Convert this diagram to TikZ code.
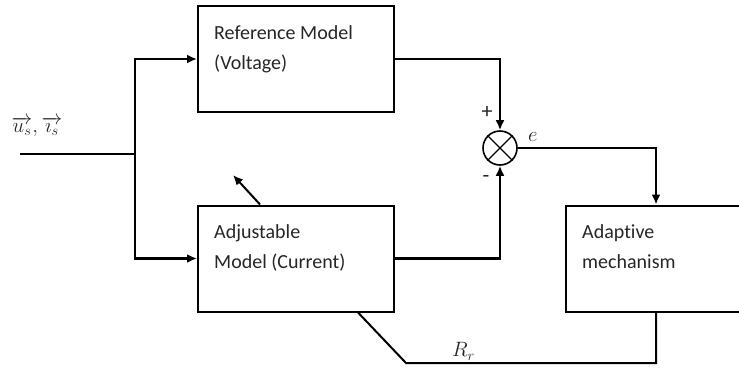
\documentclass[tikz,border=0pt]{standalone}
\usepackage{fontspec}
\setmainfont{Carlito}[Ligatures=NoCommon]
\usetikzlibrary{arrows.meta,positioning,calc}

\begin{document}
\begin{tikzpicture}[
  x=1pt,y=-1pt,
  >={Latex[length=10pt,width=9pt]},
  font=\fontsize{20}{30}\selectfont,
  text=black!85,
  blocknode/.style={draw,line width=2pt,minimum width=196pt,minimum height=106pt,inner sep=0pt},
  textnode/.style={align=left,inner sep=0pt},
  signnode/.style={font=\fontsize{22}{24}\selectfont,inner sep=0pt},
  mathnode/.style={font=\fontsize{22}{26}\selectfont},
  sumnode/.style={circle,draw,line width=1.6pt,minimum size=34pt,inner sep=0pt},
  sigline/.style={line width=2.8pt},
  thinline/.style={line width=2pt}
]
\useasboundingbox (0,0) rectangle (739,370);

\node[blocknode] (ref) at (296,59) {};
\node[blocknode] (adj) at (296,258.5) {};
\node[blocknode,minimum width=180pt] (adapt) at (656,258.5) {};
\node[sumnode] (sum) at (500,148) {};
\draw[line width=1.4pt] (sum.north west) -- (sum.south east)
  (sum.north east) -- (sum.south west);

\node[textnode,below right=20pt and 17pt of ref.north west] (reftext) {Reference Model\\(Voltage)};
\node[textnode,below right=20pt and 17pt of adj.north west] (adjtext) {Adjustable\\Model (Current)};
\node[textnode,below right=20pt and 17pt of adapt.north west] (adapttext) {Adaptive\\mechanism};

\node[font=\fontsize{20}{24}\selectfont] (inlabel) at (37,127) {$\overrightarrow{u_s},\overrightarrow{\imath_s}$};
\node[signnode] (plus) at (487,112) {+};
\node[signnode] (minus) at (486,179) {-};
\node[mathnode,above right=6pt and 10pt of sum.east,inner sep=0pt] (elabel) {$e$};

\coordinate (in) at (20,154);
\coordinate (split) at (135,154);

\draw[thinline] (in) -- (split);
\draw[sigline,->] (split) |- (ref.west);
\draw[sigline,->] (split) |- (adj.west);
\draw[sigline,->] (ref.east) -| (sum.north);
\draw[sigline,->] (adj.east) -| (sum.south);
\draw[sigline,->] (sum.east) -| (adapt.north);

\coordinate (fbR) at (adapt.south |- 0,363);
\coordinate (fbL) at (406,363);
\coordinate (adjtap) at (358,0 |- adj.south);
\draw[thinline] (adapt.south) -- (fbR)
  -- node[mathnode,above,pos=.77,inner sep=2pt] {$R_r$}
  (fbL) -- (adjtap);

\coordinate (tune) at (233,175);
\draw[thinline,->] (260,0 |- adj.north) -- (tune);

\end{tikzpicture}
\end{document}
